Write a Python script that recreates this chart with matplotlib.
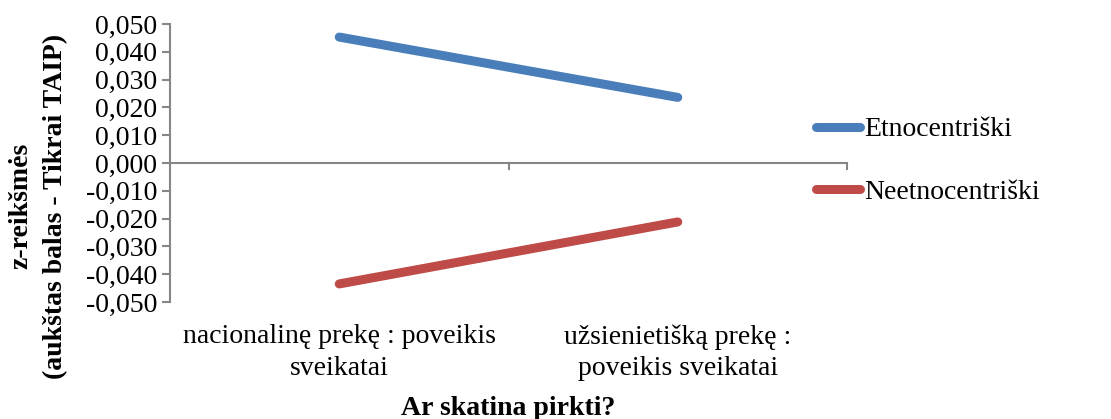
import matplotlib
matplotlib.use("Agg")
import matplotlib.pyplot as plt

categories = ["nacionalinę prekę : poveikis\nsveikatai",
              "užsienietišką prekę :\npoveikis sveikatai"]
etno = [0.0453, 0.0236]
neetno = [-0.0435, -0.0212]
yticks = [-0.05, -0.04, -0.03, -0.02, -0.01, 0.0, 0.01, 0.02, 0.03, 0.04, 0.05]
ytick_labels = [("%.3f" % v).replace(".", ",") for v in yticks]
ytick_labels[5] = "0,000"

plt.rcParams['font.family'] = ['Liberation Serif', 'DejaVu Serif']
fs = 20
gray = "#868686"

fig = plt.figure(figsize=(11.11, 4.19), dpi=100)
ax = fig.add_axes([170/1111, 1-302/419, (847-170)/1111, (302-24)/419])

x = [0.5, 1.5]
ax.plot(x, etno, color="#4A7EBB", lw=6.5, solid_capstyle="round", label="Etnocentriški")
ax.plot(x, neetno, color="#BE4B48", lw=6.5, solid_capstyle="round", label="Neetnocentriški")

ax.set_xlim(0, 2)
ax.set_ylim(-0.05, 0.05)
ax.set_yticks(yticks)
ax.set_yticklabels(ytick_labels, fontsize=fs)
ax.set_xticks([0, 1, 2])
ax.set_xticklabels([])
for i, c in enumerate(categories):
    ax.text(x[i], -0.058, c, ha="center", va="top", fontsize=fs, linespacing=1.35)

for s in ["top", "right", "bottom"]:
    ax.spines[s].set_visible(False)
ax.spines["left"].set_color(gray)
ax.spines["left"].set_linewidth(1.5)
ax.axhline(0, color=gray, lw=1.5, zorder=1)
ax.tick_params(axis="y", colors=gray, labelcolor="black", length=6, width=1.5, pad=3)
ax.tick_params(axis="x", length=0)
for xt in [1, 2]:
    ax.plot([xt, xt], [0, -0.0022], color=gray, lw=1.5, clip_on=False)

# y axis title, two lines
fig.text(21/1111, 1-206/419, "z-reikšmės", rotation=90, ha="center", va="center",
         fontsize=fs, fontweight="bold")
fig.text(56/1111, 1-206/419, "(aukštas balas - Tikrai TAIP)", rotation=90, ha="center",
         va="center", fontsize=fs, fontweight="bold")
fig.text((170+847)/2/1111, 1-408/419, "Ar skatina pirkti?", ha="center", va="center",
         fontsize=fs, fontweight="bold")

leg = fig.legend(loc="center left", bbox_to_anchor=(791/1111, 1-161/419), frameon=False,
                 fontsize=fs, handlelength=1.6, handletextpad=0.15, labelspacing=1.35)

fig.savefig("out.png", dpi=100)
